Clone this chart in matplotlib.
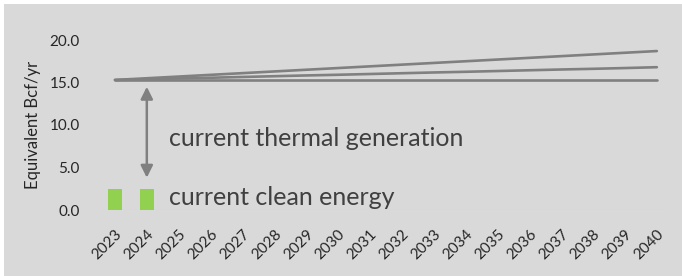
import matplotlib
matplotlib.use("Agg")
import matplotlib.pyplot as plt
from matplotlib.patches import Rectangle

years = [str(y) for y in range(2023, 2041)]
high = [15.3, 15.5, 15.7, 15.9, 16.1, 16.3, 16.5, 16.7, 16.9, 17.1, 17.3, 17.5, 17.7, 17.9, 18.1, 18.3, 18.5, 18.7]
mid = [15.3, 15.39, 15.48, 15.56, 15.65, 15.74, 15.83, 15.91, 16.0, 16.09, 16.18, 16.26, 16.35, 16.44, 16.53, 16.61, 16.7, 16.8]
low = [15.3] * 18
clean_years = ["2023", "2024"]
clean_vals = [2.5, 2.5]
yticks = [0, 5, 10, 15, 20]

plt.rcParams['font.family'] = ['Lato', 'DejaVu Sans']

fig = plt.figure(figsize=(6.82, 2.76), dpi=100)
fig.patch.set_facecolor('white')
fig.patches.append(Rectangle((4/682, 0), 1 - 4/682, 1 - 4/276, transform=fig.transFigure,
                             facecolor='#d9d9d9', edgecolor='none', zorder=-10))

ax = fig.add_axes([99/682, 66/276, (668-99)/682, 170/276])
ax.set_facecolor('none')
x = list(range(len(years)))
for s in (high, mid, low):
    ax.plot(x, s, color='#808080', lw=1.9, solid_capstyle='round')
ax.bar([years.index(c) for c in clean_years], clean_vals, width=0.42, color='#92d050')

ax.annotate('', xy=(1, 3.8), xytext=(1, 14.5),
            arrowprops=dict(arrowstyle='<|-|>', color='#808080', lw=1.8,
                            mutation_scale=18, shrinkA=0, shrinkB=0))
ax.text(1.7, 8.4, 'current thermal generation', fontsize=18, color='#404040', va='center', ha='left')
ax.text(1.7, 1.5, 'current clean energy', fontsize=18, color='#404040', va='center', ha='left')

ax.set_xlim(-0.5, 17.35)
ax.set_ylim(0, 20)
ax.set_yticks(yticks)
ax.set_yticklabels([f"{v:.1f}" for v in yticks], fontsize=11, color='#262626')
ax.set_xticks(x)
ax.set_xticklabels(years, rotation=45, ha='right', rotation_mode='anchor', fontsize=11, color='#262626')
ax.tick_params(length=0)
ax.tick_params(axis='y', pad=14)
ax.tick_params(axis='x', pad=12)
for sp in ax.spines.values():
    sp.set_visible(False)
ax.axhline(0, color='#d3d3d3', lw=0.8, zorder=0)
ax.set_ylabel('Equivalent Bcf/yr', fontsize=12, color='#262626', labelpad=6)

fig.savefig('out.png', dpi=100, facecolor=fig.get_facecolor())
